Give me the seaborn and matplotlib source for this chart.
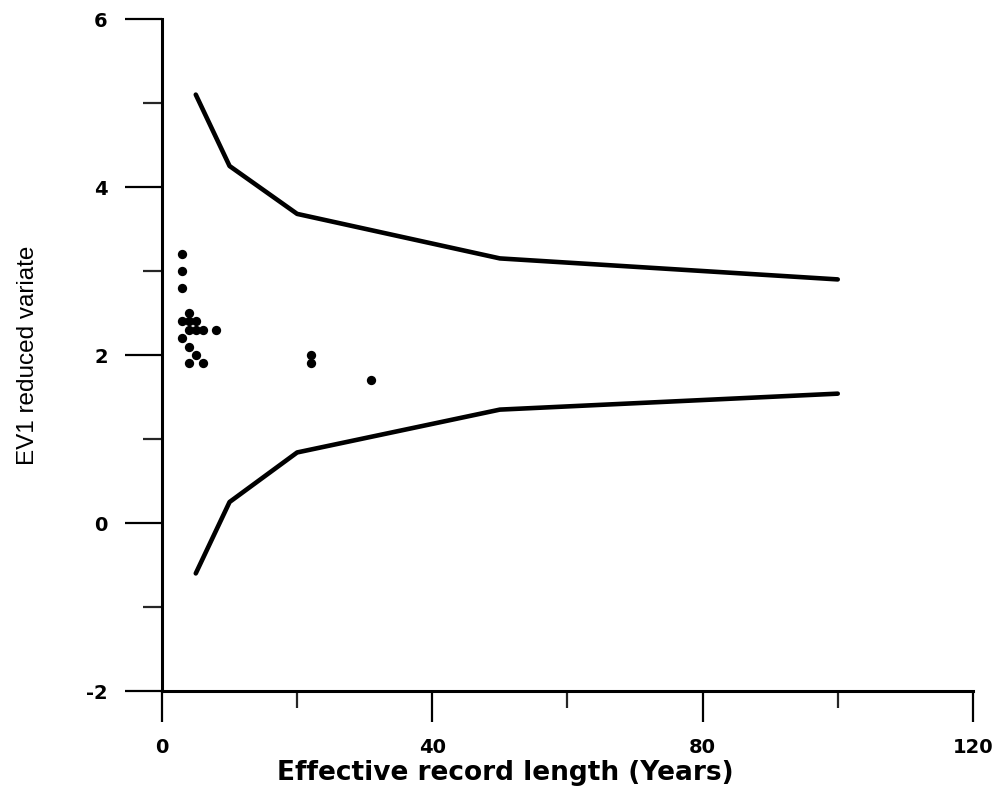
import matplotlib
matplotlib.use("Agg")
import matplotlib.pyplot as plt
import seaborn as sns
import pandas as pd
from matplotlib.ticker import MultipleLocator

# ------------------------------------------
# Data
# ------------------------------------------
record_len = [5, 10, 20, 50, 100]
upper_bound = [5.1, 4.25, 3.68, 3.15, 2.9]
lower_bound = [-0.6, 0.25, 0.84, 1.35, 1.54]

site_len = [3, 3, 3, 4, 3, 4, 5, 4, 5, 6, 8, 3, 4, 5, 4, 6, 22, 22, 31]
site_ev1 = [3.2, 3.0, 2.8, 2.5, 2.4, 2.4, 2.4, 2.3, 2.3, 2.3, 2.3,
            2.2, 2.1, 2.0, 1.9, 1.9, 2.0, 1.9, 1.7]

bounds = pd.DataFrame({"len": record_len, "upper": upper_bound, "lower": lower_bound})
sites = pd.DataFrame({"len": site_len, "ev1": site_ev1})

# ------------------------------------------
# Plot
# ------------------------------------------
sns.set_theme(style="ticks")
plt.rcParams["font.family"] = ["Liberation Sans", "DejaVu Sans"]
plt.rcParams["axes.unicode_minus"] = False

fig = plt.figure(figsize=(10.03, 7.89), dpi=100)
ax = fig.add_axes([0.1615, 0.1242, 0.8085, 0.8517])

sns.lineplot(data=bounds, x="len", y="upper", color="black", linewidth=3.3, ax=ax)
sns.lineplot(data=bounds, x="len", y="lower", color="black", linewidth=3.3, ax=ax)
sns.scatterplot(data=sites, x="len", y="ev1", color="black", s=45,
                edgecolor="black", linewidth=0, ax=ax)

ax.set_xlim(0, 120)
ax.set_ylim(-2, 6)
ax.xaxis.set_major_locator(MultipleLocator(40))
ax.xaxis.set_minor_locator(MultipleLocator(20))
ax.yaxis.set_major_locator(MultipleLocator(2))
ax.yaxis.set_minor_locator(MultipleLocator(1))

sns.despine(ax=ax)
for side in ["left", "bottom"]:
    ax.spines[side].set_linewidth(2.2)
    ax.spines[side].set_color("black")

ax.tick_params(axis="x", which="major", length=22, width=1.6, pad=12,
               labelsize=14, colors="black")
ax.tick_params(axis="x", which="minor", length=12, width=1.6)
ax.tick_params(axis="y", which="major", length=27, width=1.6, pad=12,
               labelsize=14, colors="black")
ax.tick_params(axis="y", which="minor", length=14, width=1.6)
for lbl in ax.get_xticklabels() + ax.get_yticklabels():
    lbl.set_fontweight("bold")
    lbl.set_fontfamily("DejaVu Sans")

ax.set_xlabel("Effective record length (Years)", fontsize=19, fontweight="bold",
              family="DejaVu Sans", color="black")
ax.set_ylabel("EV1 reduced variate", fontsize=17.5, color="black")
ax.xaxis.set_label_coords(0.423, -0.103)
ax.yaxis.set_label_coords(-0.152, 0.5)

fig.savefig("out.png", dpi=100, facecolor="white")
